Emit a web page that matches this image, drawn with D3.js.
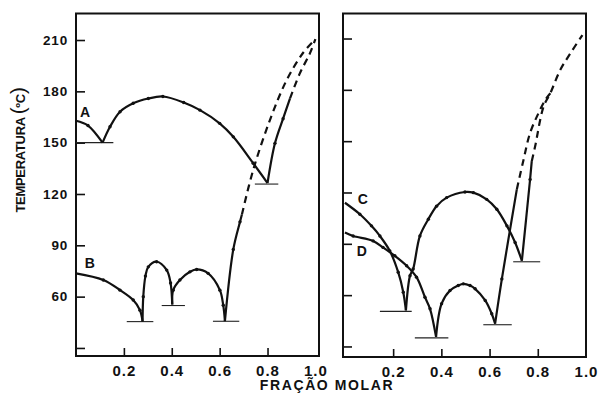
<!DOCTYPE html>
<html>
<head>
<meta charset="utf-8">
<script src="https://cdn.jsdelivr.net/npm/d3@7"></script>
<style>
  body { margin: 0; background: #fff; }
  text { font-family: "Liberation Sans", Arial, sans-serif; fill: #111; font-weight: bold; }
</style>
</head>
<body>
<svg width="600" height="402"></svg>
<script>
// tick values
var yTicks = [30, 60, 90, 120, 150, 180, 210];
var xTicks = [0.2, 0.4, 0.6, 0.8, 1.0];

// left panel - system A
var aLeft = [[0, 162.8], [0.05, 160], [0.111, 150]];
var aDome = [[0.111, 150], [0.142, 159.3], [0.184, 168.1], [0.239, 173], [0.302, 175.8], [0.363, 177],
             [0.45, 173.5], [0.518, 169], [0.60, 161.3], [0.657, 153.4], [0.74, 138], [0.80, 126.4]];
var aRise = [[0.80, 126.4], [0.831, 149.6], [0.865, 164], [0.894, 175.9]];
var aDash = [[0.894, 175.9], [0.935, 190.5], [0.977, 202.2], [1.0, 210.5]];

// left panel - system B
var bLeft = [[0, 73.6], [0.114, 69.7], [0.184, 63.8], [0.239, 58], [0.267, 52.1], [0.278, 45.5]];
var bDome1 = [[0.278, 45.5], [0.281, 60], [0.29, 72], [0.302, 77.4], [0.337, 80.4], [0.379, 75.5], [0.395, 68], [0.402, 55.4]];
var bDome2 = [[0.402, 55.4], [0.406, 63.8], [0.434, 69.7], [0.476, 74.5], [0.504, 75.9], [0.552, 73.6],
              [0.601, 63.8], [0.615, 55], [0.622, 45.7]];
var bRise = [[0.622, 45.7], [0.657, 87.6], [0.685, 103.7], [0.693, 108]];
var bDash = [[0.693, 108], [0.74, 134], [0.81, 163.2], [0.88, 186.6], [0.948, 202.4], [1.0, 210.5]];

// right panel - system C
var cLeft = [[0, 114], [0.062, 107.3], [0.11, 100.5], [0.145, 94.6], [0.186, 85.9], [0.221, 73.4], [0.242, 61.7], [0.253, 51.1]];
var cDome = [[0.253, 51.1], [0.27, 71.4], [0.283, 75.3], [0.311, 94.6], [0.346, 104.4], [0.38, 112], [0.422, 117],
             [0.498, 120.3], [0.533, 119.9], [0.588, 116], [0.63, 110.2], [0.672, 100.5], [0.706, 90.8], [0.734, 80.1]];
var cRise = [[0.734, 80.1], [0.768, 127.6], [0.775, 138.3]];
var cDash = [[0.775, 138.3], [0.789, 147], [0.824, 170.2], [0.852, 178], [0.893, 191.6], [0.935, 201.3], [0.985, 212]];

// right panel - system D
var dLeft = [[0, 96.6], [0.034, 94.6], [0.117, 91.7], [0.158, 87.9], [0.207, 83], [0.256, 77.2], [0.297, 70.5],
             [0.332, 58.8], [0.353, 52], [0.378, 35.6]];
var dDome = [[0.378, 35.6], [0.401, 55], [0.436, 62.7], [0.47, 65.6], [0.491, 66.6], [0.519, 65.6], [0.54, 63.7],
             [0.582, 56.9], [0.609, 49.1], [0.623, 43.3]];
var dRise = [[0.623, 43.3], [0.651, 69.5], [0.713, 121.8]];
var dDash = [[0.713, 121.8], [0.741, 139.2], [0.768, 154.8], [0.803, 166.4], [0.831, 174.1], [0.852, 178]];

// eutectic horizontals [x0, x1, T]
var eutLeft = [[0, 0.156, 150], [0.212, 0.323, 45.4], [0.358, 0.455, 54.8], [0.572, 0.682, 45.6], [0.747, 0.845, 125.8]];
var eutRight = [[0.145, 0.277, 50.5], [0.29, 0.429, 35], [0.574, 0.692, 42.7], [0.698, 0.81, 79.5]];

// curve names and where they sit
var labelsLeft = [["A", 0.038, 167.9], ["B", 0.058, 79.6]];
var labelsRight = [["C", 0.074, 116], ["D", 0.07, 85.8]];

var svg = d3.select("svg");

var y = d3.scaleLinear().domain([25.3, 225.5]).range([356, 13.5]);
var yR = y.copy().range([354.5, 12]);

var panels = [
  { x: d3.scaleLinear().domain([0, 1.015]).range([76, 319]), y: y, box: [76, 13.5, 319, 356], yLabels: true,
    solid: [aLeft, aDome, aRise, bLeft, bDome1, bDome2, bRise], dashed: [aDash, bDash],
    eut: eutLeft, labels: labelsLeft },
  { x: d3.scaleLinear().domain([-0.008, 1.0]).range([343, 586]), y: yR, box: [343, 13.5, 586, 357], yLabels: false,
    solid: [cLeft, cDome, cRise, dLeft, dDome, dRise], dashed: [cDash, dDash],
    eut: eutRight, labels: labelsRight }
];

panels.forEach(function(p) {
  var g = svg.append("g");
  var b = p.box;

  // x axis, ticks pointing inward
  var xa = g.append("g").attr("transform", "translate(0," + b[3] + ")")
    .call(d3.axisBottom(p.x).tickValues(xTicks).tickSize(-8).tickPadding(9)
      .tickFormat(function(d) { return d.toFixed(1); }));
  xa.select(".domain").remove();
  xa.selectAll(".tick").filter(function(d) { return d === 1; }).select("line").remove();
  xa.selectAll("text").style("font-size", "15px").attr("letter-spacing", 1);

  var ya = g.append("g").attr("transform", "translate(" + b[0] + ",0)")
    .call(d3.axisLeft(p.y).tickValues(yTicks).tickSize(-9).tickPadding(8)
      .tickFormat(function(d) { return (p.yLabels && d !== 30) ? d : ""; }));
  ya.select(".domain").remove();
  ya.selectAll("text").style("font-size", "13.5px").attr("letter-spacing", 0.8);
  g.selectAll(".tick line").attr("stroke", "#111").attr("stroke-width", 1.6);

  // frame
  g.append("rect")
    .attr("x", b[0]).attr("y", b[1]).attr("width", b[2] - b[0]).attr("height", b[3] - b[1])
    .attr("fill", "none").attr("stroke", "#111").attr("stroke-width", 2);

  var line = d3.line()
    .x(function(d) { return p.x(d[0]); })
    .y(function(d) { return p.y(d[1]); })
    .curve(d3.curveCatmullRom.alpha(0.5));

  g.selectAll("line.eut").data(p.eut).enter().append("line")
    .attr("class", "eut")
    .attr("x1", function(d) { return p.x(d[0]); })
    .attr("x2", function(d) { return p.x(d[1]); })
    .attr("y1", function(d) { return p.y(d[2]); })
    .attr("y2", function(d) { return p.y(d[2]); })
    .attr("stroke", "#222").attr("stroke-width", 1.1);

  g.selectAll("path.solid").data(p.solid).enter().append("path")
    .attr("class", "solid")
    .attr("d", line)
    .attr("fill", "none").attr("stroke", "#111").attr("stroke-width", 2.2);

  g.selectAll("path.dash").data(p.dashed).enter().append("path")
    .attr("class", "dash")
    .attr("d", line)
    .attr("fill", "none").attr("stroke", "#111").attr("stroke-width", 2.2)
    .attr("stroke-dasharray", "7,5");

  // measured points along the solid branches
  var pts = [];
  p.solid.forEach(function(s) { s.slice(1, -1).forEach(function(d) { pts.push(d); }); });
  g.selectAll("circle").data(pts).enter().append("circle")
    .attr("cx", function(d) { return p.x(d[0]); })
    .attr("cy", function(d) { return p.y(d[1]); })
    .attr("r", 1.7).attr("fill", "#111");

  g.selectAll("text.lbl").data(p.labels).enter().append("text")
    .attr("class", "lbl")
    .attr("x", function(d) { return p.x(d[1]); })
    .attr("y", function(d) { return p.y(d[2]); })
    .attr("dy", "0.36em")
    .attr("text-anchor", "middle")
    .style("font-size", "14px")
    .text(function(d) { return d[0]; });
});

// axis titles
var yt = svg.append("text")
  .attr("transform", "translate(25,150) rotate(-90)")
  .attr("text-anchor", "middle")
  .attr("letter-spacing", -0.3)
  .style("font-size", "13px");
yt.append("tspan").text("TEMPERATURA ");
yt.append("tspan").style("font-size", "21px").style("font-weight", "normal").text("(");
yt.append("tspan").text("ºC");
yt.append("tspan").style("font-size", "21px").style("font-weight", "normal").text(")");

svg.append("text")
  .attr("x", 327).attr("y", 390)
  .attr("text-anchor", "middle")
  .attr("letter-spacing", 1.6)
  .style("font-size", "14px")
  .text("FRAÇÃO MOLAR");
</script>
</body>
</html>
